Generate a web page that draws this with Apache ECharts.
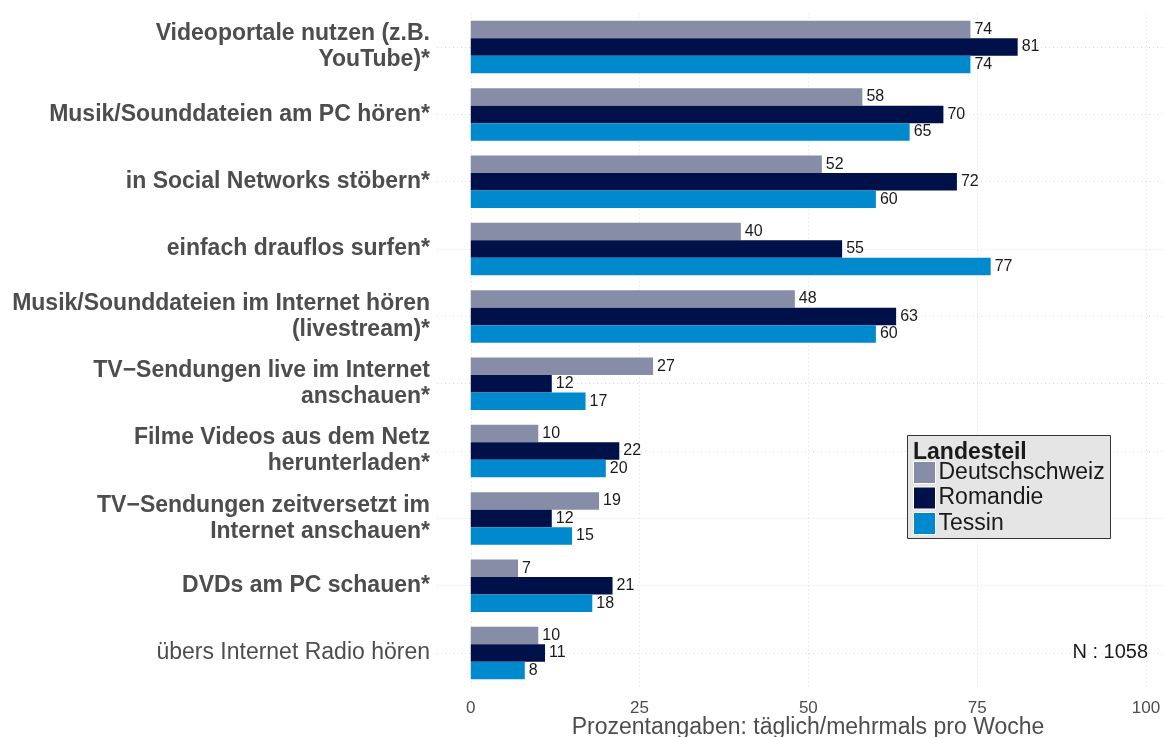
<!DOCTYPE html>
<html>
<head>
<meta charset="utf-8">
<script src="https://cdn.jsdelivr.net/npm/echarts@6/dist/echarts.min.js"></script>
<style>html,body{margin:0;padding:0;background:#fff}#c{width:1164px;height:737px}</style>
</head>
<body>
<div id="c"></div>
<script>
const categories = [
  'Videoportale nutzen (z.B.\nYouTube)*',
  'Musik/Sounddateien am PC hören*',
  'in Social Networks stöbern*',
  'einfach drauflos surfen*',
  'Musik/Sounddateien im Internet hören\n(livestream)*',
  'TV\u2212Sendungen live im Internet\nanschauen*',
  'Filme Videos aus dem Netz\nherunterladen*',
  'TV\u2212Sendungen zeitversetzt im\nInternet anschauen*',
  'DVDs am PC schauen*',
  'übers Internet Radio hören'
];
const seriesNames = ['Deutschschweiz', 'Romandie', 'Tessin'];
const deutschschweiz = [74, 58, 52, 40, 48, 27, 10, 19, 7, 10];
const romandie       = [81, 70, 72, 55, 63, 12, 22, 12, 21, 11];
const tessin         = [74, 65, 60, 77, 60, 17, 20, 15, 18, 8];
const xTicks = [0, 25, 50, 75, 100];
const colors = ['#878ca7', '#001149', '#0089cd'];
const FONT = '"Liberation Sans", Arial, Helvetica, sans-serif';

const chart = echarts.init(document.getElementById('c'), null, {renderer: 'canvas'});

function barSeries(name, data, color) {
  return {
    name: name, type: 'bar', data: data, zlevel: 1, z: 3,
    barWidth: 17.5, barGap: '0%',
    itemStyle: {color: color},
    label: {show: true, position: 'right', distance: 4, fontFamily: FONT, fontSize: 16, color: '#1a1a1a'}
  };
}

chart.setOption({
  animation: false,
  backgroundColor: '#ffffff',
  textStyle: {fontFamily: FONT},
  grid: {left: 437, right: 0, top: 13.4, bottom: 50.3, containLabel: false, outerBoundsMode: 'none'},
  xAxis: {
    type: 'value', min: -5, max: 102.67,
    name: 'Prozentangaben: täglich/mehrmals pro Woche',
    nameLocation: 'middle', nameGap: 29, nameMoveOverlap: false,
    nameTextStyle: {fontFamily: FONT, fontSize: 23, color: '#4d4d4d', padding: [0, 0, 0, 15]},
    axisLine: {show: false}, axisTick: {show: false, customValues: xTicks},
    axisLabel: {customValues: xTicks, fontFamily: FONT, fontSize: 17, color: '#4d4d4d', margin: 13},
    splitLine: {show: false}
  },
  yAxis: {
    type: 'category', data: categories, inverse: true,
    axisLine: {show: false}, axisTick: {show: false}, splitLine: {show: false},
    axisLabel: {
      margin: 7, align: 'right',
      formatter: function (v, i) {
        const key = (i === categories.length - 1) ? 'n' : 'b';
        return v.split('\n').map(function (l) { return '{' + key + '|' + l + '}'; }).join('\n');
      },
      rich: {
        b: {fontFamily: FONT, fontSize: 23, fontWeight: 'bold', color: '#4d4d4d', lineHeight: 26, align: 'right'},
        n: {fontFamily: FONT, fontSize: 23, fontWeight: 'normal', color: '#4d4d4d', lineHeight: 26, align: 'right'}
      }
    }
  },
  legend: {
    data: seriesNames, orient: 'vertical', left: 913, top: 461, zlevel: 3, padding: 0,
    itemWidth: 22, itemHeight: 22, itemGap: 2.5, icon: 'rect',
    itemStyle: {borderColor: '#ffffff', borderWidth: 1},
    textStyle: {fontFamily: FONT, fontSize: 23, lineHeight: 22, color: '#1a1a1a', padding: [0, 0, 0, -2]}
  },
  graphic: [
    {type: 'rect', left: 907, top: 435, zlevel: 2, z: 1, shape: {width: 203, height: 103},
     style: {fill: '#e5e5e5', stroke: '#333333', lineWidth: 1}},
    {type: 'text', left: 913, top: 441, zlevel: 3, z: 5,
     style: {text: 'Landesteil', font: 'bold 23px ' + FONT, fill: '#1a1a1a'}},
    {type: 'text', right: 16, top: 642, zlevel: 3, z: 5,
     style: {text: 'N : 1058', font: '20px ' + FONT, fill: '#1a1a1a'}}
  ],
  series: [
    {
      name: 'grid', type: 'line', data: [], zlevel: 0, z: 1, silent: true,
      markLine: {
        silent: true, symbol: 'none', label: {show: false},
        lineStyle: {color: '#dcdcdc', type: [1, 3], width: 1},
        data: categories.map(function (c) { return {yAxis: c}; })
          .concat(xTicks.map(function (t) { return {xAxis: t}; }))
      }
    },
    barSeries(seriesNames[0], deutschschweiz, colors[0]),
    barSeries(seriesNames[1], romandie, colors[1]),
    barSeries(seriesNames[2], tessin, colors[2])
  ]
});
</script>
</body>
</html>
